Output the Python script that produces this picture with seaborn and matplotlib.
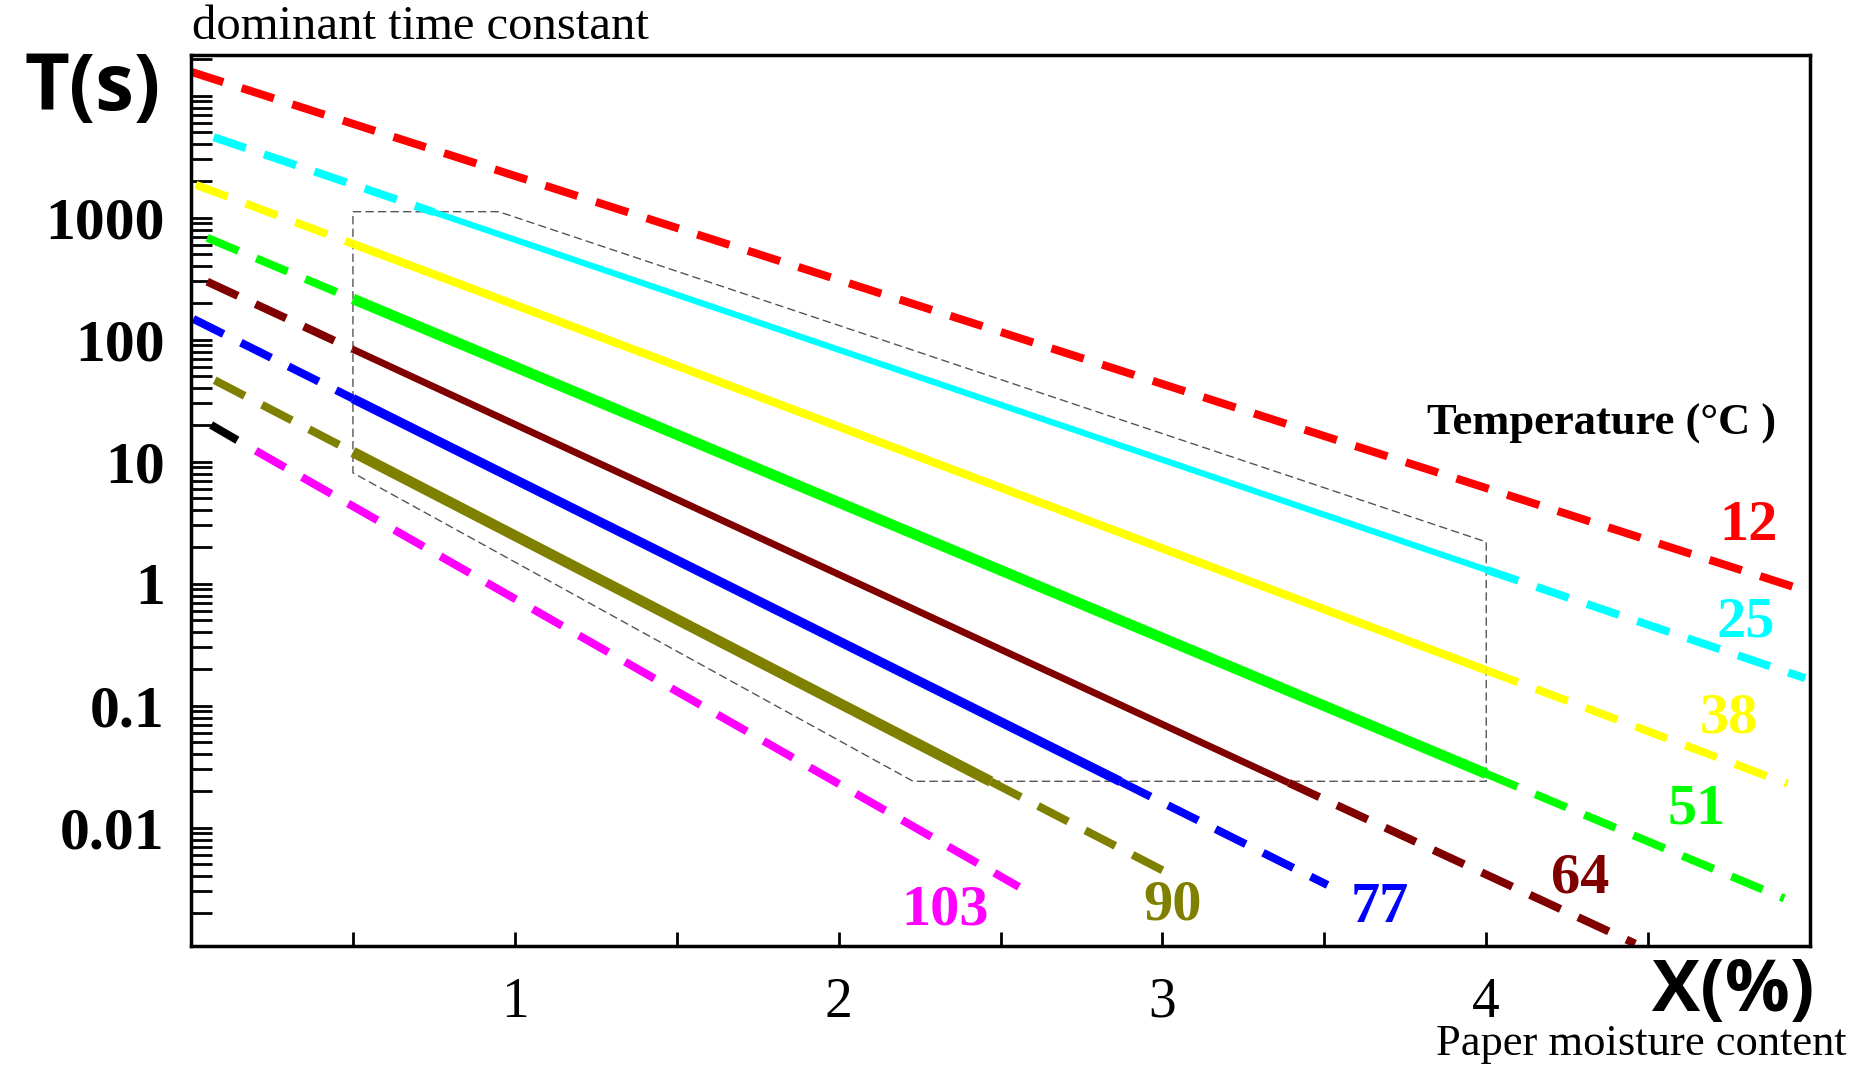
import numpy as np
import pandas as pd
import matplotlib.pyplot as plt
import seaborn as sns

# temperature series (deg C) and their colours
temps = ["12", "25", "38", "51", "64", "77", "90", "103"]
colors = ["#ff0000", "#00ffff", "#ffff00", "#00ff00", "#800000", "#0000ff", "#808000", "#ff00ff"]

# moisture X(%) and time constant T(s):
# start of line, start of measured (solid) part, end of solid part, end of line
x_start = [0.0, 0.07, 0.015, 0.05, 0.05, 0.007, 0.073, 0.20]
t_start = [15700, 4570, 1860, 684, 299, 148, 46.5, 12.3]
x_solid_a = [np.nan, 0.75, 0.5, 0.5, 0.5, 0.5, 0.5, np.nan]
t_solid_a = [np.nan, 1110, 610, 216, 83.4, 32.9, 12.0, np.nan]
x_solid_b = [np.nan, 4.0, 4.0, 4.0, 3.39, 2.87, 2.47, np.nan]
t_solid_b = [np.nan, 1.30, 0.195, 0.0277, 0.0233, 0.0239, 0.0239, np.nan]
x_end = [4.95, 4.985, 4.93, 4.92, 4.46, 3.51, 3.015, 2.557]
t_end = [0.94, 0.168, 0.0229, 0.00263, 0.00112, 0.00339, 0.00427, 0.00327]
solid_lw = [0, 4.5, 6.0, 7.7, 5.0, 6.8, 7.7, 0]

# the first (black) dash of the 103 curve
x_black = [0.062, 0.143]
t_black = [20, 15]

# outline of the measured domain
x_domain = [0.5, 0.95, 4.0, 4.0, 2.23, 0.5, 0.5]
t_domain = [1120, 1120, 2.2, 0.024, 0.024, 8.1, 1120]

# curve labels
label_x = [4.81, 4.80, 4.75, 4.65, 4.29, 3.67, 3.03, 2.33]
label_t = [2.96, 0.48, 0.0785, 0.014, 0.0038, 0.0022, 0.0023, 0.0021]

x_ticks = [0.5, 1, 1.5, 2, 2.5, 3, 3.5, 4, 4.5]
x_ticklabels = ["", "1", "", "2", "", "3", "", "4", ""]
y_ticks = [0.01, 0.1, 1, 10, 100, 1000, 10000]
y_ticklabels = ["0.01", "0.1", "1", "10", "100", "1000", ""]

sns.set_theme(style="ticks")
plt.rcParams["font.family"] = ["Liberation Serif", "DejaVu Serif"]
plt.rcParams["text.color"] = "black"
plt.rcParams["xtick.color"] = "black"
plt.rcParams["ytick.color"] = "black"

fig = plt.figure(figsize=(18.62, 10.65), dpi=100)
ax = fig.add_axes([0.1026, 0.1117, 0.8695, 0.8366])
ax.set_yscale("log")

dash = (0, (4.2, 2.4))
dash_lw = 5.8


def seg(xs, ts, color, lw, ls):
    df = pd.DataFrame({"x": xs, "t": ts})
    sns.lineplot(data=df, x="x", y="t", color=color, linewidth=lw, linestyle=ls,
                 sort=False, estimator=None, ax=ax, solid_capstyle="butt")


# measured domain
seg(x_domain, t_domain, "#555555", 1.0, (0, (6, 3)))

for i in range(len(temps)):
    c = colors[i]
    if np.isnan(x_solid_a[i]):
        seg([x_start[i], x_end[i]], [t_start[i], t_end[i]], c, dash_lw, dash)
    else:
        seg([x_start[i], x_solid_a[i]], [t_start[i], t_solid_a[i]], c, dash_lw, dash)
        seg([x_solid_a[i], x_solid_b[i]], [t_solid_a[i], t_solid_b[i]], c, solid_lw[i], "-")
        seg([x_solid_b[i], x_end[i]], [t_solid_b[i], t_end[i]], c, dash_lw, dash)
    ax.text(label_x[i], label_t[i], temps[i], color=c, fontsize=42, fontweight="bold",
            ha="center", va="center")

seg(x_black, t_black, "black", dash_lw, "-")

ax.text(4.355, 20.3, "Temperature (°C )", fontsize=32, fontweight="bold", ha="center", va="center")

ax.set_xlim(0, 5)
ax.set_ylim(10 ** -2.97, 10 ** 4.333)
ax.set_xticks(x_ticks, x_ticklabels)
ax.set_yticks(y_ticks, y_ticklabels)
ax.yaxis.set_minor_locator(plt.matplotlib.ticker.LogLocator(base=10, subs=np.arange(2, 10)))
ax.yaxis.set_minor_formatter(plt.NullFormatter())
ax.set_xlabel("")
ax.set_ylabel("")

ax.tick_params(axis="y", which="both", direction="in", length=15, width=2, pad=19,
               labelsize=43, colors="black")
ax.tick_params(axis="x", which="both", direction="in", length=10, width=2, pad=22,
               labelsize=40, colors="black")
for lab in ax.get_yticklabels():
    lab.set_fontweight("bold")
for sp in ax.spines.values():
    sp.set_linewidth(2.5)
    sp.set_color("black")

fig.text(0.05, 0.916, "T(s)", family=["Open Sans", "DejaVu Sans"], fontweight="bold",
         fontsize=56, ha="center", va="center")
fig.text(0.931, 0.069, "X(%)", family=["Open Sans", "DejaVu Sans"], fontweight="bold",
         fontsize=52, ha="center", va="center")
fig.text(0.103, 0.963, "dominant time constant", fontsize=35, ha="left", va="baseline")
fig.text(0.992, 0.009, "Paper moisture content", fontsize=32, ha="right", va="baseline")

fig.savefig("out.png", dpi=100)
